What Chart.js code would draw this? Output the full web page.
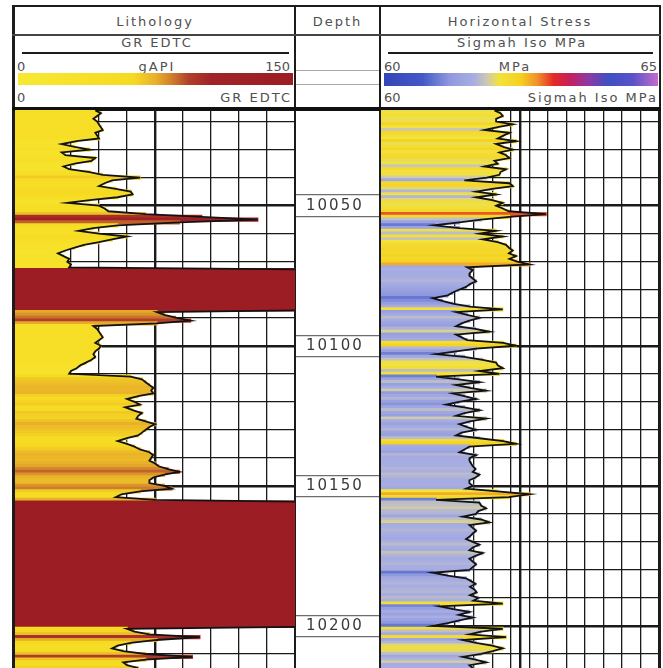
<!DOCTYPE html>
<html>
<head>
<meta charset="utf-8">
<script src="https://cdn.jsdelivr.net/npm/chart.js@4.4.1/dist/chart.umd.min.js"></script>
<style>
  html, body { margin: 0; padding: 0; background: #fff; }
  body { width: 663px; height: 668px; overflow: hidden; position: relative; font-family: "DejaVu Sans", sans-serif; }
  .abs { position: absolute; }
  .line { position: absolute; background: #1c1c1c; }
  .txt { position: absolute; color: #505050; font-size: 13px; line-height: 14px; letter-spacing: 2px; white-space: nowrap; }
  .c { text-align: center; }
  .r { text-align: right; }
  canvas { position: absolute; }
</style>
</head>
<body>

<!-- frame and column separators -->
<div class="line" style="left:12px; top:5px; width:649px; height:2px;"></div>
<div class="line" style="left:12px; top:5px; width:3px; height:670px;"></div>
<div class="line" style="left:659px; top:5px; width:2px; height:670px;"></div>
<div class="line" style="left:294px; top:5px; width:2px; height:670px;"></div>
<div class="line" style="left:379px; top:5px; width:2px; height:670px;"></div>
<div class="line" style="left:12px; top:34px; width:649px; height:1.5px; background:#444;"></div>
<div class="line" style="left:12px; top:107px; width:649px; height:3.5px; background:#111;"></div>
<div class="line" style="left:296px; top:70px; width:83px; height:1px; background:#aaa;"></div>
<div class="line" style="left:296px; top:84px; width:83px; height:1px; background:#aaa;"></div>

<!-- track titles -->
<div class="txt c" style="left:15px; width:280px; top:15px;">Lithology</div>
<div class="txt c" style="left:296px; width:83px; top:15px;">Depth</div>
<div class="txt c" style="left:381px; width:278px; top:15px;">Horizontal Stress</div>

<!-- GR header -->
<div class="txt c" style="left:15px; width:284px; top:36px;">GR EDTC</div>
<div class="line" style="left:22px; top:52px; width:267px; height:2px;"></div>
<div class="txt" style="left:17px; top:60px; letter-spacing:0;">0</div>
<div class="txt c" style="left:15px; width:284px; top:60px;">gAPI</div>
<div class="txt r" style="left:200px; width:90px; top:60px; letter-spacing:0;">150</div>
<div id="grBar" class="abs" style="left:18px; top:73px; width:275px; height:12px;"></div>
<div class="txt" style="left:17px; top:91px; letter-spacing:0;">0</div>
<div class="txt r" style="left:150px; width:142px; top:91px;">GR EDTC</div>

<!-- stress header -->
<div class="txt c" style="left:381px; width:282px; top:36px;">Sigmah Iso MPa</div>
<div class="line" style="left:388px; top:52px; width:265px; height:2px;"></div>
<div class="txt" style="left:384px; top:60px; letter-spacing:0;">60</div>
<div class="txt c" style="left:381px; width:268px; top:60px;">MPa</div>
<div class="txt r" style="left:600px; width:57px; top:60px; letter-spacing:0;">65</div>
<div id="shBar" class="abs" style="left:384px; top:73px; width:274px; height:13px;"></div>
<div class="txt" style="left:384px; top:91px; letter-spacing:0;">60</div>
<div class="txt r" style="left:460px; width:198px; top:91px;">Sigmah Iso MPa</div>

<canvas id="grChart" width="280" height="558" style="left:15px; top:110px;"></canvas>
<canvas id="depthChart" width="83" height="558" style="left:296px; top:110px;"></canvas>
<canvas id="shChart" width="278" height="558" style="left:381px; top:110px;"></canvas>

<script>
// ---- depth window and sampling (1 ft samples starting at firstDepth) ----
const depthMin = 10015.86;
const depthMax = 10215.0;
const firstDepth = 10016;

// ---- gamma ray, gAPI (values above 150 are off scale: shale) ----
const grValues = [
  43, 46, 44, 42, 44, 45, 46, 47, 43, 44,
  45, 33, 25, 32, 40, 25, 27, 43, 41, 32,
  26, 29, 40, 47, 67, 52, 48, 45, 54, 62,
  63, 55, 40, 28, 45, 48, 50, 70, 100, 130,
  88, 55, 42, 34, 45, 60, 52, 45, 37, 32,
  27, 23, 26, 29, 28, 30, 29, 200, 200, 200,
  200, 200, 200, 200, 200, 200, 200, 200, 200, 200,
  200, 200, 76, 80, 86, 94, 76, 42, 44, 45,
  46, 47, 45, 43, 46, 45, 43, 42, 43, 41,
  38, 35, 33, 30, 29, 62, 68, 70, 72, 74,
  73, 74, 66, 60, 64, 67, 59, 63, 68, 66,
  65, 70, 75, 72, 70, 68, 66, 60, 55, 60,
  64, 67, 72, 74, 73, 72, 75, 77, 82, 88,
  80, 74, 72, 72, 80, 84, 67, 57, 54, 75,
  200, 200, 200, 200, 200, 200, 200, 200, 200, 200,
  200, 200, 200, 200, 200, 200, 200, 200, 200, 200,
  200, 200, 200, 200, 200, 200, 200, 200, 200, 200,
  200, 200, 200, 200, 200, 200, 200, 200, 200, 200,
  200, 200, 200, 200, 200, 60, 64, 72, 99, 76,
  62, 55, 52, 58, 70, 95, 70, 58, 60, 66
];

// ---- isotropic horizontal stress, MPa ----
const sigmahValues = [
  62.04, 62.15, 62.19, 62.07, 62.07, 62.37, 62.10, 61.86, 62.31, 62.20,
  62.10, 62.43, 62.07, 62.20, 62.37, 62.13, 62.25, 62.31, 62.04, 62.10,
  61.86, 62.25, 62.15, 62.13, 61.90, 61.50, 62.31, 62.37, 62.00, 61.71,
  62.07, 61.71, 62.00, 62.19, 62.07, 62.19, 62.30, 62.97, 62.31, 61.80,
  61.41, 60.96, 61.41, 62.07, 61.77, 62.19, 61.83, 62.10, 62.25, 62.30,
  62.37, 62.30, 62.43, 62.31, 62.45, 62.67, 61.55, 61.65, 61.60, 61.59,
  61.65, 61.71, 61.60, 61.53, 61.40, 61.29, 61.20, 60.93, 61.10, 61.29,
  61.60, 62.19, 61.35, 61.55, 61.77, 61.59, 61.45, 61.35, 61.70, 61.95,
  61.35, 61.45, 61.55, 62.20, 62.43, 61.71, 61.35, 60.99, 61.50, 61.83,
  62.07, 62.10, 62.19, 61.77, 62.13, 60.99, 61.40, 61.77, 61.35, 61.60,
  61.89, 61.29, 61.50, 61.71, 61.40, 61.17, 61.50, 61.77, 61.50, 61.35,
  61.89, 61.60, 61.41, 61.55, 61.71, 61.45, 61.35, 61.77, 62.20, 62.43,
  61.59, 61.50, 61.41, 61.71, 61.60, 61.59, 61.62, 61.65, 61.70, 61.65,
  61.77, 61.70, 61.59, 61.59, 61.65, 61.53, 62.10, 62.67, 62.30, 60.99,
  61.77, 61.80, 61.89, 61.75, 61.71, 61.47, 61.80, 61.95, 61.59, 61.65,
  61.71, 61.65, 61.60, 61.53, 61.65, 61.77, 61.65, 61.59, 61.83, 61.70,
  61.59, 61.65, 61.71, 61.65, 61.59, 60.93, 61.20, 61.53, 61.62, 61.70,
  61.60, 61.68, 61.72, 61.60, 61.75, 61.66, 62.19, 61.05, 61.30, 61.59,
  61.40, 61.65, 61.41, 61.20, 60.93, 62.19, 61.80, 61.59, 62.25, 61.47,
  61.71, 62.00, 62.19, 62.01, 61.80, 61.47, 61.70, 61.89, 61.59, 61.65
];

// ---- scale ranges, grid and depth labels ----
const grRange = [0, 150];
const sigmahRange = [60, 65];
const grGrid = [0, 15, 30, 45, 60, 75, 90, 105, 120, 135, 150];
const grMajor = [75];
const sigmahGrid = [60, 60.333, 60.667, 61, 61.333, 61.667, 62, 62.333, 62.5, 62.667,
                    63, 63.333, 63.667, 64, 64.333, 64.667, 65];
const sigmahMajor = [62.5];
const depthGrid = [10020, 10030, 10040, 10050, 10060, 10070, 10080, 10090, 10100, 10110,
                   10120, 10130, 10140, 10150, 10160, 10170, 10180, 10190, 10200, 10210];
const depthMajor = [10050, 10100, 10150, 10200];
const depthLabels = [10050, 10100, 10150, 10200];
const labelBoxHalf = 3.8; // ft above/below each depth label

// ---- colour ramps shared by the header bars and the curve fills ----
const grRamp = [
  [0.00, '#f8e832'], [0.42, '#f6da22'], [0.50, '#e9b02a'], [0.56, '#cf7e2c'],
  [0.62, '#b0402b'], [0.70, '#a02427'], [1.00, '#9c1d24']
];
const sigmahRamp = [
  [0.00, '#3346b8'], [0.14, '#4458c6'], [0.24, '#8f99de'], [0.33, '#a9aee2'],
  [0.38, '#cfcbab'], [0.42, '#f2e23c'], [0.50, '#f6d01e'], [0.56, '#f0902a'],
  [0.62, '#e42824'], [0.68, '#c42060'], [0.75, '#8a3aa6'], [0.82, '#3d50c2'],
  [0.91, '#5b52c8'], [1.00, '#c46ccc']
];

function hexRgb(h) { return [1, 3, 5].map(i => parseInt(h.substr(i, 2), 16)); }
function rampColor(ramp, f) {
  f = Math.max(0, Math.min(1, f));
  for (let i = 1; i < ramp.length; i++) {
    if (f <= ramp[i][0]) {
      const [f0, c0] = ramp[i - 1], [f1, c1] = ramp[i];
      const t = (f - f0) / (f1 - f0 || 1);
      const a = hexRgb(c0), b = hexRgb(c1);
      return 'rgb(' + a.map((v, k) => Math.round(v + (b[k] - v) * t)).join(',') + ')';
    }
  }
  return ramp[ramp.length - 1][1];
}
function cssGradient(ramp) {
  return 'linear-gradient(to right,' + ramp.map(([f, c]) => c + ' ' + (f * 100).toFixed(1) + '%').join(',') + ')';
}
document.getElementById('grBar').style.background = cssGradient(grRamp);
document.getElementById('shBar').style.background = cssGradient(sigmahRamp);

const toPoints = vals => vals.map((v, i) => ({ x: v, y: firstDepth + i }));
const tickValue = c => (c && c.tick) ? c.tick.value : NaN;

function tickList(values) { return axis => { axis.ticks = values.map(v => ({ value: v })); }; }
function noPadding(axis) {
  axis.paddingTop = 0; axis.paddingBottom = 0; axis.paddingLeft = 0; axis.paddingRight = 0;
}

function depthAxis() {
  return {
    type: 'linear', reverse: true, min: depthMin, max: depthMax, z: 1,
    offset: false,
    ticks: { display: false }, border: { display: false },
    grid: {
      offset: false, drawTicks: false, color: '#1a1a1a',
      lineWidth: c => depthMajor.includes(tickValue(c)) ? 2.4 : 1.3
    },
    afterBuildTicks: tickList(depthGrid),
    afterFit: noPadding
  };
}

function logTrack(canvasId, values, range, grid, major, ramp) {
  const pts = toPoints(values);
  const span = range[1] - range[0];
  return new Chart(document.getElementById(canvasId), {
    type: 'bar',
    data: {
      datasets: [
        {
          type: 'line', data: pts, borderColor: '#121212', borderWidth: 1.8,
          pointRadius: 0, tension: 0, order: 0
        },
        {
          type: 'bar', data: pts, order: 1,
          backgroundColor: c => rampColor(ramp, ((c.raw ? c.raw.x : range[0]) - range[0]) / span),
          borderWidth: 0, barPercentage: 1, categoryPercentage: 1, inflateAmount: 0.7
        }
      ]
    },
    options: {
      indexAxis: 'y', responsive: false, animation: false, events: [],
      layout: { padding: 0 },
      plugins: { legend: { display: false }, tooltip: { enabled: false } },
      scales: {
        x: {
          type: 'linear', position: 'top', min: range[0], max: range[1], z: 1,
          offset: false,
          ticks: { display: false }, border: { display: false },
          grid: {
            offset: false, drawTicks: false, color: '#1a1a1a',
            lineWidth: c => major.includes(tickValue(c)) ? 2.4 : 1.3
          },
          afterBuildTicks: tickList(grid),
          afterFit: noPadding
        },
        y: depthAxis()
      }
    }
  });
}

logTrack('grChart', grValues, grRange, grGrid, grMajor, grRamp);
logTrack('shChart', sigmahValues, sigmahRange, sigmahGrid, sigmahMajor, sigmahRamp);

// ---- depth column: labels with boxes above and below ----
const boxEdges = [];
depthLabels.forEach(d => { boxEdges.push(d - labelBoxHalf, d, d + labelBoxHalf); });

new Chart(document.getElementById('depthChart'), {
  type: 'scatter',
  data: { datasets: [{ data: [] }] },
  options: {
    responsive: false, animation: false, events: [],
    layout: { padding: 0 },
    plugins: { legend: { display: false }, tooltip: { enabled: false } },
    scales: {
      x: { display: false, min: 0, max: 1 },
      y: {
        type: 'linear', position: 'left', reverse: true, min: depthMin, max: depthMax,
        offset: false,
        border: { display: false },
        ticks: {
          mirror: true, padding: 10, autoSkip: false, color: '#3a3a3a',
          font: { family: '"DejaVu Sans", sans-serif', size: 15 },
          callback: v => depthLabels.includes(v) ? String(v) : ''
        },
        grid: {
          drawTicks: false, lineWidth: 1.2,
          color: c => depthLabels.includes(tickValue(c)) ? 'rgba(0,0,0,0)' : '#6e6e6e'
        },
        afterBuildTicks: tickList(boxEdges),
        afterFit: axis => { axis.width = 0; noPadding(axis); }
      }
    }
  },
  plugins: [{
    id: 'labelSpacing',
    beforeDraw: chart => { chart.ctx.letterSpacing = '2px'; }
  }]
});
</script>
</body>
</html>
